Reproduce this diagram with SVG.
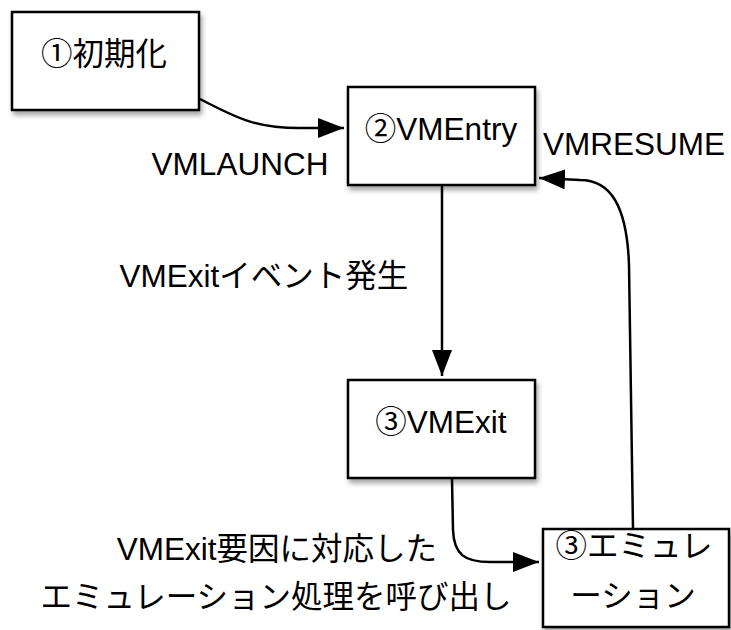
<svg xmlns="http://www.w3.org/2000/svg" width="731" height="630" viewBox="0 0 731 630">
<style>
text{font-family:"Liberation Sans","Noto Sans CJK JP",sans-serif;font-size:31.5px;fill:#000;text-anchor:middle}
.box{fill:#fff;stroke:#000;stroke-width:2.5;filter:url(#sh)}
.con{fill:none;stroke:#000;stroke-width:2.5}
</style>
<defs>
<filter id="sh" x="-10%" y="-10%" width="130%" height="130%">
<feDropShadow dx="2" dy="4" stdDeviation="2.5" flood-color="#000" flood-opacity="0.35"/>
</filter>
<marker id="ah" markerUnits="userSpaceOnUse" markerWidth="28" markerHeight="20" refX="26" refY="10" orient="auto">
<path d="M0,0 L26,10 L0,20 z" fill="#000"/>
</marker>
</defs>
<rect width="731" height="630" fill="#fff"/>
<g id="connectors">
<path class="con" d="M200,99 C240,120 258,128 300,128 L344,128" marker-end="url(#ah)"/>
<path class="con" d="M442,186 L442,376" marker-end="url(#ah)"/>
<path class="con" d="M452,479 L453,530 C454,555 465,562 490,562 L539,562" marker-end="url(#ah)"/>
<path class="con" d="M633,529 L629,265 C627,205 610,180 580,180 L539,178" marker-end="url(#ah)"/>
</g>
<g id="n1"><rect class="box" x="12" y="12" width="187" height="98"/><text x="104" y="65">①初期化</text></g>
<g id="n2"><rect class="box" x="348" y="87" width="187" height="98"/><text x="441" y="140">②VMEntry</text></g>
<g id="n3"><rect class="box" x="348" y="380" width="187" height="98"/><text x="441" y="433">③VMExit</text></g>
<g id="n4"><rect class="box" x="543" y="529" width="186" height="98"/><text x="634" y="557">③エミュレ</text><text x="633" y="607">ーション</text></g>
<g id="labels">
<text x="240" y="175">VMLAUNCH</text>
<text x="634" y="155">VMRESUME</text>
<text x="264" y="287">VMExitイベント発生</text>
<text x="277" y="560">VMExit要因に対応した</text>
<text x="276" y="608">エミュレーション処理を呼び出し</text>
</g>
</svg>
